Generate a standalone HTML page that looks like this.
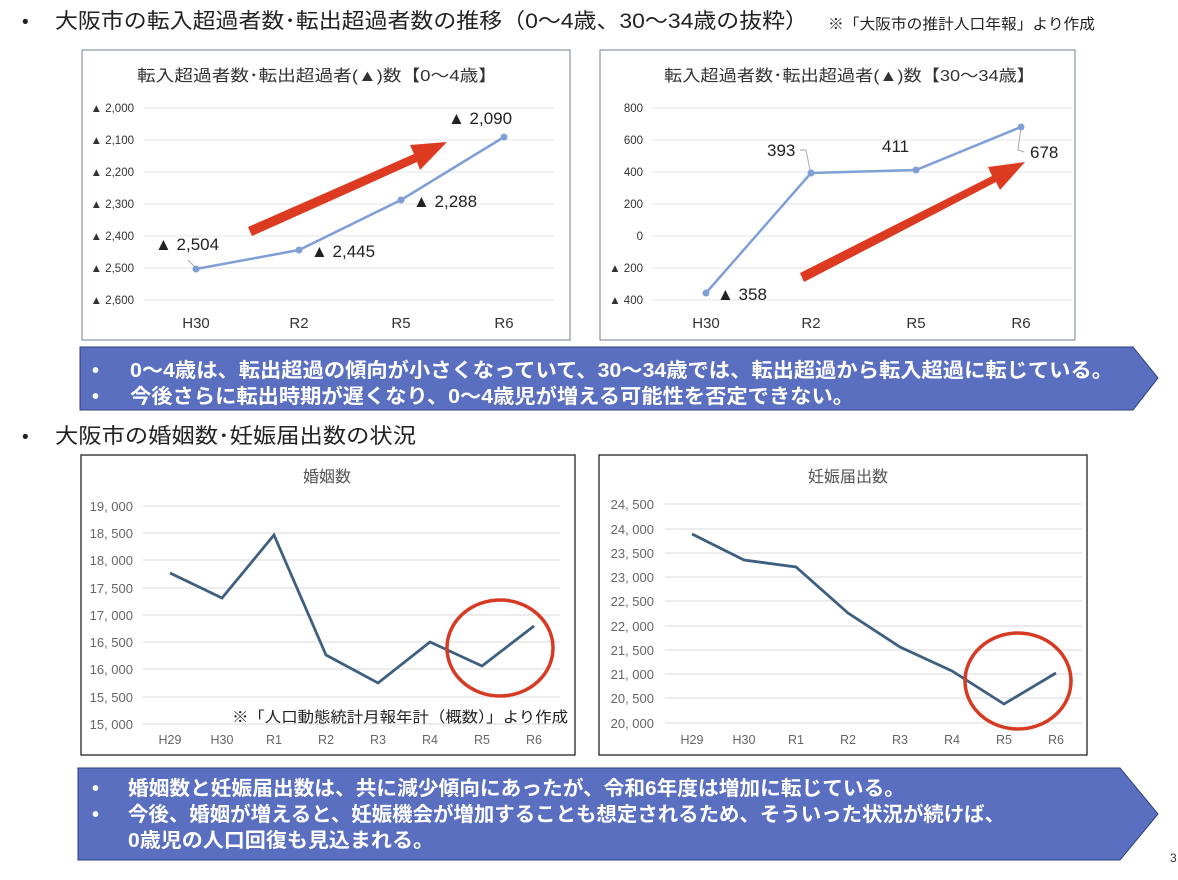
<!DOCTYPE html>
<html><head><meta charset="utf-8"><style>
body{margin:0;background:#fff;}
svg text{font-family:"Liberation Sans","Noto Sans CJK JP",sans-serif;}
</style></head><body>
<svg width="1178" height="875" viewBox="0 0 1178 875" xmlns="http://www.w3.org/2000/svg">
<rect width="1178" height="875" fill="#fff"/>
<!-- header -->
<text x="22" y="28" font-size="19" fill="#222">•</text>
<text x="55" y="28" font-size="21" fill="#222" textLength="753" lengthAdjust="spacingAndGlyphs">大阪市の転入超過者数･転出超過者数の推移（0～4歳、30～34歳の抜粋）</text>
<text x="828" y="29" font-size="15" fill="#222" textLength="267" lengthAdjust="spacingAndGlyphs">※「大阪市の推計人口年報」より作成</text>

<!-- chart1 -->
<rect x="82" y="50" width="488" height="290" fill="#fff" stroke="#8a93a8" stroke-width="1.2"/>
<text x="137" y="81" font-size="16" fill="#333" textLength="360" lengthAdjust="spacingAndGlyphs">転入超過者数･転出超過者(▲)数【0～4歳】</text>
<g stroke="#e6e6e6" stroke-width="1">
<line x1="144" x2="555" y1="108" y2="108"/><line x1="144" x2="555" y1="140" y2="140"/><line x1="144" x2="555" y1="172" y2="172"/><line x1="144" x2="555" y1="204" y2="204"/><line x1="144" x2="555" y1="236" y2="236"/><line x1="144" x2="555" y1="268" y2="268"/><line x1="144" x2="555" y1="300" y2="300"/>
</g>
<g font-size="11.5" fill="#333" text-anchor="end">
<text x="134" y="112">▲ 2,000</text><text x="134" y="144">▲ 2,100</text><text x="134" y="176">▲ 2,200</text><text x="134" y="208">▲ 2,300</text><text x="134" y="240">▲ 2,400</text><text x="134" y="272">▲ 2,500</text><text x="134" y="304">▲ 2,600</text>
</g>
<g font-size="15" fill="#333" text-anchor="middle"><text x="196" y="328">H30</text><text x="299" y="328">R2</text><text x="401" y="328">R5</text><text x="504" y="328">R6</text></g>
<line x1="188" y1="260" x2="195" y2="267" stroke="#aaa"/>
<polyline points="196,269 299,250 401,200 504,137" fill="none" stroke="#7f9fd6" stroke-width="2.5"/>
<g fill="#7f9fd6"><circle cx="196" cy="269" r="3.5"/><circle cx="299" cy="250" r="3.5"/><circle cx="401" cy="200" r="3.5"/><circle cx="504" cy="137" r="3.5"/></g>
<g font-size="17" fill="#222"><text x="155" y="250">▲ 2,504</text><text x="311" y="257">▲ 2,445</text><text x="413" y="207">▲ 2,288</text><text x="448" y="124">▲ 2,090</text></g>
<polygon points="248,227 414,154 410,145 447,142 420,170 417,162 252,236" fill="#dd3a22"/>

<!-- chart2 -->
<rect x="600" y="50" width="475" height="290" fill="#fff" stroke="#8a93a8" stroke-width="1.2"/>
<text x="664" y="81" font-size="16" fill="#333" textLength="371" lengthAdjust="spacingAndGlyphs">転入超過者数･転出超過者(▲)数【30～34歳】</text>
<g stroke="#e6e6e6" stroke-width="1">
<line x1="652" x2="1072" y1="108" y2="108"/><line x1="652" x2="1072" y1="140" y2="140"/><line x1="652" x2="1072" y1="172" y2="172"/><line x1="652" x2="1072" y1="204" y2="204"/><line x1="652" x2="1072" y1="236" y2="236"/><line x1="652" x2="1072" y1="268" y2="268"/><line x1="652" x2="1072" y1="300" y2="300"/>
</g>
<g font-size="11.5" fill="#333" text-anchor="end">
<text x="643" y="112">800</text><text x="643" y="144">600</text><text x="643" y="176">400</text><text x="643" y="208">200</text><text x="643" y="240">0</text><text x="643" y="272">▲ 200</text><text x="643" y="304">▲ 400</text>
</g>
<g font-size="15" fill="#333" text-anchor="middle"><text x="706" y="328">H30</text><text x="811" y="328">R2</text><text x="916" y="328">R5</text><text x="1021" y="328">R6</text></g>
<polyline points="800,150 806,150 810,170" fill="none" stroke="#aaa"/>
<polyline points="1021,127 1018,150 1024,152" fill="none" stroke="#aaa"/>
<polyline points="706,293 811,173 916,170 1021,127" fill="none" stroke="#7f9fd6" stroke-width="2.5"/>
<g fill="#7f9fd6"><circle cx="706" cy="293" r="3.5"/><circle cx="811" cy="173" r="3.5"/><circle cx="916" cy="170" r="3.5"/><circle cx="1021" cy="127" r="3.5"/></g>
<g font-size="17" fill="#222"><text x="717" y="300">▲ 358</text><text x="767" y="156">393</text><text x="882" y="152">411</text><text x="1030" y="158">678</text></g>
<polygon points="800,273 992,176 988,167 1025,162 1000,190 996,182 804,282" fill="#dd3a22"/>

<!-- banner1 -->
<polygon points="80,347 1133,347 1158,378 1133,410 80,410" fill="#5a6fc0" stroke="#2e3f80" stroke-width="1"/>
<g fill="#fff" font-size="20" font-weight="bold">
<text x="92" y="377">•</text><text x="130" y="377" textLength="983" lengthAdjust="spacingAndGlyphs">0～4歳は、転出超過の傾向が小さくなっていて、30～34歳では、転出超過から転入超過に転じている。</text>
<text x="92" y="403">•</text><text x="130" y="403" textLength="724" lengthAdjust="spacingAndGlyphs">今後さらに転出時期が遅くなり、0～4歳児が増える可能性を否定できない。</text>
</g>

<text x="22" y="443" font-size="19" fill="#222">•</text>
<text x="55" y="443" font-size="21" fill="#222" textLength="361" lengthAdjust="spacingAndGlyphs">大阪市の婚姻数･妊娠届出数の状況</text>

<!-- chart3 -->
<rect x="81" y="455" width="494" height="300" fill="#fff" stroke="#222" stroke-width="1.3"/>
<text x="327" y="482" font-size="16" text-anchor="middle" fill="#555">婚姻数</text>
<g stroke="#e0e0e0" stroke-width="1.2">
<line x1="143" x2="560" y1="506" y2="506"/><line x1="143" x2="560" y1="533" y2="533"/><line x1="143" x2="560" y1="560" y2="560"/><line x1="143" x2="560" y1="588" y2="588"/><line x1="143" x2="560" y1="615" y2="615"/><line x1="143" x2="560" y1="642" y2="642"/><line x1="143" x2="560" y1="669" y2="669"/><line x1="143" x2="560" y1="697" y2="697"/><line x1="143" x2="560" y1="724" y2="724"/>
</g>
<g font-size="13" fill="#666" text-anchor="end">
<text x="133" y="511">19, 000</text><text x="133" y="538">18, 500</text><text x="133" y="565">18, 000</text><text x="133" y="593">17, 500</text><text x="133" y="620">17, 000</text><text x="133" y="647">16, 500</text><text x="133" y="674">16, 000</text><text x="133" y="702">15, 500</text><text x="133" y="729">15, 000</text>
</g>
<g font-size="12.5" fill="#666" text-anchor="middle"><text x="170" y="744">H29</text><text x="222" y="744">H30</text><text x="274" y="744">R1</text><text x="326" y="744">R2</text><text x="378" y="744">R3</text><text x="430" y="744">R4</text><text x="482" y="744">R5</text><text x="534" y="744">R6</text></g>
<polyline points="170,573 222,598 274,535 326,655 378,683 430,642 482,666 534,626" fill="none" stroke="#3f5f80" stroke-width="2.8"/>
<text x="232" y="722" font-size="15" fill="#222" textLength="336" lengthAdjust="spacingAndGlyphs">※「人口動態統計月報年計（概数）」より作成</text>
<ellipse cx="500" cy="648" rx="53" ry="48" fill="none" stroke="#d63a22" stroke-width="3.5"/>

<!-- chart4 -->
<rect x="599" y="455" width="488" height="300" fill="#fff" stroke="#222" stroke-width="1.3"/>
<text x="848" y="482" font-size="16" text-anchor="middle" fill="#555">妊娠届出数</text>
<g stroke="#e0e0e0" stroke-width="1.2">
<line x1="665" x2="1082" y1="504" y2="504"/><line x1="665" x2="1082" y1="529" y2="529"/><line x1="665" x2="1082" y1="553" y2="553"/><line x1="665" x2="1082" y1="577" y2="577"/><line x1="665" x2="1082" y1="601" y2="601"/><line x1="665" x2="1082" y1="626" y2="626"/><line x1="665" x2="1082" y1="650" y2="650"/><line x1="665" x2="1082" y1="674" y2="674"/><line x1="665" x2="1082" y1="698" y2="698"/><line x1="665" x2="1082" y1="723" y2="723"/>
</g>
<g font-size="13" fill="#666" text-anchor="end">
<text x="654" y="509">24, 500</text><text x="654" y="534">24, 000</text><text x="654" y="558">23, 500</text><text x="654" y="582">23, 000</text><text x="654" y="606">22, 500</text><text x="654" y="631">22, 000</text><text x="654" y="655">21, 500</text><text x="654" y="679">21, 000</text><text x="654" y="703">20, 500</text><text x="654" y="728">20, 000</text>
</g>
<g font-size="12.5" fill="#666" text-anchor="middle"><text x="692" y="744">H29</text><text x="744" y="744">H30</text><text x="796" y="744">R1</text><text x="848" y="744">R2</text><text x="900" y="744">R3</text><text x="952" y="744">R4</text><text x="1004" y="744">R5</text><text x="1056" y="744">R6</text></g>
<polyline points="692,534 744,560 796,567 848,613 900,647 952,671 1004,704 1056,673" fill="none" stroke="#3f5f80" stroke-width="2.8"/>
<ellipse cx="1018" cy="681" rx="53" ry="48" fill="none" stroke="#d63a22" stroke-width="3.5"/>

<!-- banner2 -->
<polygon points="78,768 1120,768 1158,814 1120,860 78,860" fill="#5a6fc0" stroke="#2e3f80" stroke-width="1"/>
<g fill="#fff" font-size="20" font-weight="bold">
<text x="92" y="795">•</text><text x="128" y="795" textLength="777" lengthAdjust="spacingAndGlyphs">婚姻数と妊娠届出数は、共に減少傾向にあったが、令和6年度は増加に転じている。</text>
<text x="92" y="821">•</text><text x="128" y="821" textLength="877" lengthAdjust="spacingAndGlyphs">今後、婚姻が増えると、妊娠機会が増加することも想定されるため、そういった状況が続けば、</text>
<text x="128" y="847" textLength="306" lengthAdjust="spacingAndGlyphs">0歳児の人口回復も見込まれる。</text>
</g>
<text x="1170" y="862" font-size="12" fill="#333">3</text>
</svg>
</body></html>
